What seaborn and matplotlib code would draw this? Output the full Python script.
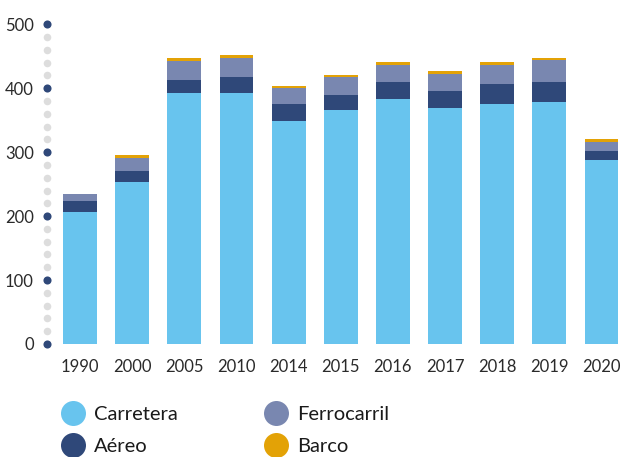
import numpy as np
import pandas as pd
import matplotlib
matplotlib.use("Agg")
import matplotlib.pyplot as plt
import seaborn as sns
from matplotlib.lines import Line2D

# ---------------------------------
# DATA
# ---------------------------------

years = ["1990", "2000", "2005", "2010", "2014", "2015", "2016", "2017", "2018", "2019", "2020"]

carretera = [206, 253, 393, 393, 349, 366, 383, 369, 376, 379, 288]
aereo = [17, 17, 20, 24, 27, 23, 27, 27, 30, 30, 14]
ferrocarril = [11, 21, 30, 30, 25, 28, 27, 27, 31, 35, 14]
barco = [1, 4, 5, 5, 3, 3, 4, 4, 4, 4, 4]

labels = ["Carretera", "Aéreo", "Ferrocarril", "Barco"]
colors = ["#68C4EE", "#2F4879", "#7987B0", "#E3A206"]

# ---------------------------------
# STACKED TOTALS
# ---------------------------------

df = pd.DataFrame({
    "year": years,
    "Carretera": carretera,
    "Aéreo": aereo,
    "Ferrocarril": ferrocarril,
    "Barco": barco,
})

cum = df[labels].cumsum(axis=1)
cum["year"] = df["year"]

# ---------------------------------
# FIGURE
# ---------------------------------

sns.set_style("white")
plt.rcParams["font.family"] = ["Lato", "DejaVu Sans"]

fig = plt.figure(figsize=(6.23, 4.57), dpi=100)
ax = fig.add_axes([47 / 623, (457 - 344) / 457, (620 - 47) / 623, (344 - 24.3) / 457])

# draw from the top of the stack down so each layer covers the one above
for lab, col in zip(labels[::-1], colors[::-1]):
    sns.barplot(data=cum, x="year", y=lab, color=col, width=0.65,
                linewidth=0, saturation=1, ax=ax)

x_left = -0.633
ax.set_xlim(x_left, 10.355)
ax.set_ylim(0, 500)

# dotted y axis
minor = np.arange(0, 501, 20)
minor = minor[minor % 100 != 0]
major = np.arange(0, 501, 100)
ax.scatter(np.full(len(minor), x_left), minor, s=30, color="#DDDDDD",
           clip_on=False, zorder=3, linewidths=0)
ax.scatter(np.full(len(major), x_left), major, s=34, color="#2F4879",
           clip_on=False, zorder=4, linewidths=0)

ax.set_yticks(major)
ax.set_yticklabels([str(v) for v in major])
ax.tick_params(axis="y", length=0, pad=9.5, labelsize=12, labelcolor="#2a2a2a")
ax.tick_params(axis="x", length=0, pad=11, labelsize=12, labelcolor="#2a2a2a")
ax.set_xlabel("")
ax.set_ylabel("")
sns.despine(ax=ax, left=True, bottom=True)

# legend
handles = [Line2D([], [], marker="o", linestyle="", markersize=18,
                  markerfacecolor=c, markeredgewidth=0) for c in colors]
fig.legend(handles, labels, ncol=2, loc="upper left",
           bbox_to_anchor=(50 / 623, 1 - 396 / 457), frameon=False,
           fontsize=14.5, handlelength=1.3, handletextpad=0.4,
           columnspacing=4.2, labelspacing=0.75, borderpad=0,
           labelcolor="#1a1a1a")

fig.savefig("out.png", dpi=100)
